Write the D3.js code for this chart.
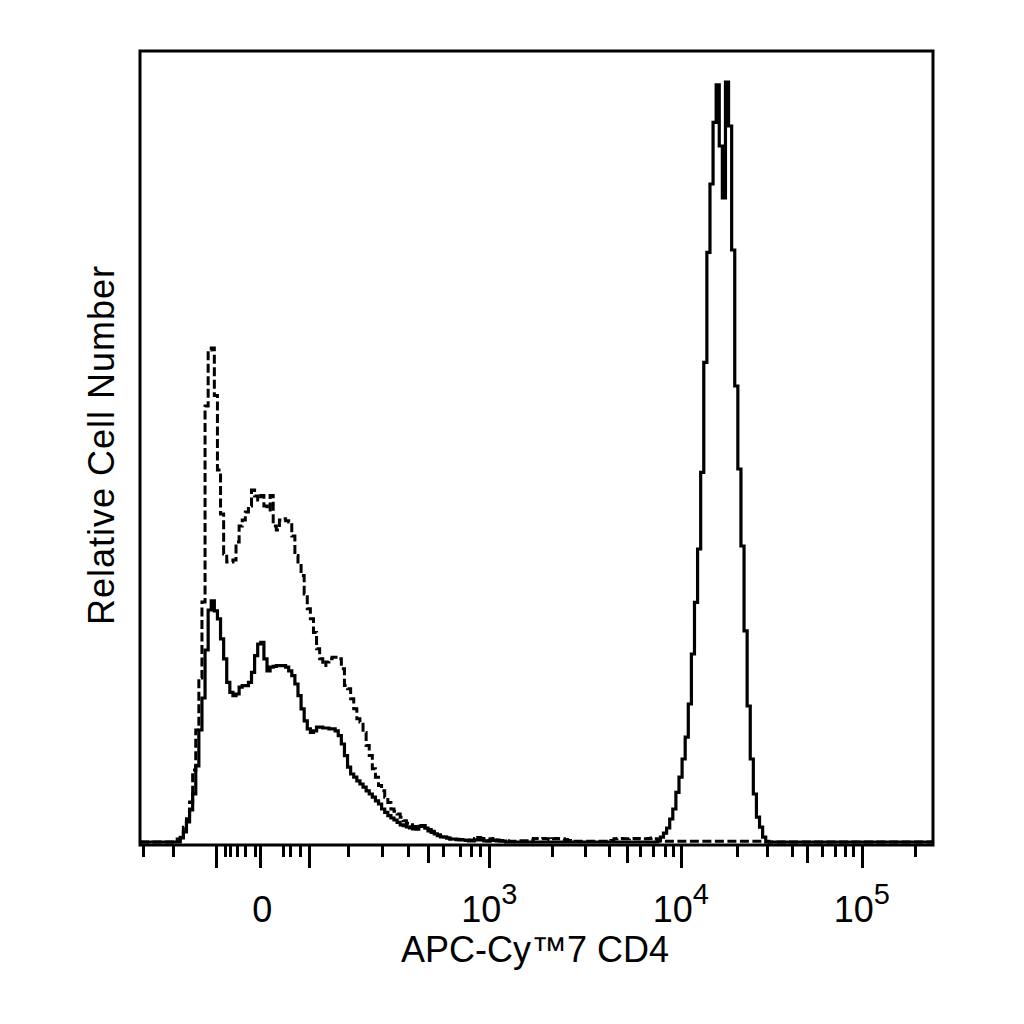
<!DOCTYPE html>
<html>
<head>
<meta charset="utf-8">
<script src="https://cdn.jsdelivr.net/npm/d3@7"></script>
<style>
  body { margin: 0; background: #fff; }
  text { font-family: "Liberation Sans", Arial, sans-serif; fill: #000; }
</style>
</head>
<body>
<svg id="view"></svg>
<script>

// 256 display channels on the biexponential axis, counts per channel
const nBins = 256;

// stained sample (solid line)
const solidCounts = [
    0, 0, 0, 0, 0, 0, 0, 0, 0, 0,
    0, 0, 0, 1, 2.5, 5, 8, 12, 19, 28,
    36, 48, 58, 60.3, 57.8, 55.8, 50.8, 45.8, 39.9, 37.4,
    36.6, 37, 38.7, 39.1, 39.1, 39.9, 42.4, 46.6, 49.5, 49.9,
    45.8, 42.8, 43.7, 43.9, 44.1, 44.1, 44.1, 43.7, 42.8, 41.6,
    39.5, 36.6, 33.3, 30.3, 28.3, 27.4, 27.8, 28.7, 28.7, 28.5,
    28.5, 28.3, 28.3, 27.8, 26.6, 24.5, 21.6, 18.7, 17, 16.2,
    15.3, 14.5, 13.7, 12.8, 12, 11.2, 10.3, 9.5, 8.25, 7.4,
    6.6, 6, 5.5, 4.9, 4.3, 4.1, 3.8, 3.5, 3.25, 3.2,
    3.9, 4.1, 3.5, 2.8, 2.4, 2, 1.6, 1.3, 1.2, 1,
    0.75, 0.75, 0.6, 0.5, 0.5, 0.4, 0.3, 0.3, 0.5, 0.7,
    0.5, 0.3, 0.2, 0.4, 0.5, 0.3, 0.2, 0.2, 0, 0,
    0, 0, 0, 0, 0, 0, 0, 0, 0, 0,
    0, 0, 0, 0, 0, 0, 0, 0, 0, 0,
    0, 0, 0, 0, 0, 0, 0, 0, 0, 0,
    0, 0, 0, 0, 0, 0, 0, 0, 0, 0,
    0, 0, 0, 0, 0, 0, 0, 0.4, 1.2, 2.2,
    3.5, 5.75, 8.25, 12.4, 16.2, 20.75, 26.2, 34.5, 47, 59.9,
    73.25, 92.4, 119.9, 147.4, 164.5, 179.9, 189.3, 174, 161, 190,
    179, 148, 114, 93.25, 74, 52.8, 34, 20.75, 12, 6.2,
    3.7, 1.2, 0, 0, 0, 0
];

// isotype control (dashed line)
const dashedCounts = [
    0, 0, 0, 0, 0, 0, 0, 0, 0, 0,
    0, 0, 0.75, 2, 3.7, 5.8, 10, 18, 28, 41,
    60, 109, 123, 123.5, 111.6, 93, 82, 72, 70, 70,
    70.5, 75, 79, 80.5, 82.5, 84, 88, 86.5, 85.5, 86.6,
    84, 83, 86.6, 79, 78, 80.5, 80.8, 80.3, 80, 76.5,
    71.6, 70, 66.6, 62, 58.3, 55.8, 52.4, 48.3, 45.8, 44.1,
    45, 45.8, 46.2, 46.2, 45.8, 43.3, 39.1, 38.3, 35.8, 33.3,
    30.8, 30, 27.4, 24.1, 21.6, 18.3, 16.2, 14.1, 12.8, 11.2,
    9.9, 8.25, 7.7, 7, 6.2, 5.3, 4.7, 4.3, 3.9, 3.7,
    4.1, 4.1, 3.5, 3.1, 2.7, 2, 1.8, 1.4, 1.2, 1,
    0.75, 0.75, 0.7, 0.6, 0.6, 0.5, 0.5, 0.5, 0.9, 1.1,
    0.9, 0.5, 0.4, 0.8, 0.9, 0.5, 0.4, 0.3, 0.3, 0.2,
    0.2, 0.2, 0.2, 0.3, 0.3, 0.3, 0.5, 0.9, 0.9, 0.8,
    0.9, 0.8, 0.6, 0.8, 0.9, 0.8, 0.8, 0.6, 0.4, 0.3,
    0.2, 0.2, 0.2, 0.2, 0.2, 0.2, 0.2, 0.2, 0.2, 0.2,
    0.2, 0.2, 0.4, 0.8, 0.9, 0.9, 0.8, 0.8, 0.9, 0.9,
    0.8, 0.9, 0.8, 0.8, 0.9, 1, 0.8, 0.3, 0.2, 0.2,
    0.2, 0.2, 0.2, 0.2, 0.2, 0.2, 0.2, 0.2, 0.2, 0.2,
    0.2, 0.2, 0.2, 0.2, 0.2, 0.2, 0.2, 0.2, 0.2, 0.2,
    0.2, 0.2, 0.2, 0.2, 0.2, 0.2, 0.2, 0.2, 0.2, 0.2,
    0.2, 0.2, 0.2, 0, 0, 0
];

// axis ticks, given in display channels
const majorTicks  = [24.5, 38.9, 54.6, 112.75, 174.6, 233.05];
const mediumTicks = [93.0, 157.2, 215.3];
const minorTicks  = [1.0, 10.6, 27.4, 29.1, 31.3, 33.9, 37.1, 46.2, 48.4, 51.6,
                     67.1, 78.1, 86.5, 97.8, 103.3, 106.8, 109.8,
                     133.0, 143.6, 151.4, 161.4, 165.6, 169.5, 172.1,
                     192.7, 202.4, 210.5, 220.1, 224.3, 227.6, 230.2, 250.2];

const labelChannels = [39.5, 112.75, 174.6, 233.05];
const labelBases    = ['0', '10', '10', '10'];
const labelPowers   = ['', '3', '4', '5'];

const xTitle = 'APC-Cy\u21227 CD4';
const yTitle = 'Relative Cell Number';


const plotHistogram = function(){
    const margin = {top: 51, right: 91, bottom: 179, left: 140};
    const width  = 1024 - margin.left - margin.right;
    const height = 1024 - margin.top - margin.bottom;

    const svg = d3.select('#view')
        .attr('width', 1024)
        .attr('height', 1024)
        .append('g')
        .attr('transform', `translate(${margin.left},${margin.top})`);

    const x = d3.scaleLinear().domain([0, nBins]).range([0, width]);
    // zero count sits just above the axis line
    const y = d3.scaleLinear().domain([0, 200]).range([height - 3, height - 803]);

    const stepLine = d3.line()
        .x(d => x(d[0]))
        .y(d => y(d[1]))
        .curve(d3.curveStepAfter);

    const toPoints = counts => counts.map((c, i) => [i, c]).concat([[nBins, 0]]);

    svg.append('path')
        .datum(toPoints(dashedCounts))
        .attr('fill', 'none')
        .attr('stroke', '#000')
        .attr('stroke-width', 3)
        .attr('stroke-dasharray', '9,3.5')
        .attr('d', stepLine);

    svg.append('path')
        .datum(toPoints(solidCounts))
        .attr('fill', 'none')
        .attr('stroke', '#000')
        .attr('stroke-width', 3.2)
        .attr('d', stepLine);

    // frame
    svg.append('rect')
        .attr('width', width)
        .attr('height', height)
        .attr('fill', 'none')
        .attr('stroke', '#000')
        .attr('stroke-width', 3);

    const tickRow = function(values, size){
        svg.append('g')
            .attr('transform', `translate(0,${height})`)
            .call(d3.axisBottom(x).tickValues(values).tickSize(size).tickFormat(''))
            .call(g => g.select('.domain').remove())
            .selectAll('line')
            .attr('stroke', '#000')
            .attr('stroke-width', 3)
            .attr('shape-rendering', 'crispEdges');
    }
    tickRow(minorTicks, 12);
    tickRow(mediumTicks, 18);
    tickRow(majorTicks, 23);

    svg.selectAll('.tlabel')
        .data(labelChannels)
        .enter()
        .append('text')
        .attr('class', 'tlabel')
        .attr('x', d => x(d))
        .attr('y', height + 77)
        .attr('text-anchor', 'middle')
        .style('font-size', '36px')
        .each(function(d, i){
            const t = d3.select(this);
            t.append('tspan').text(labelBases[i]);
            if (labelPowers[i]) t.append('tspan').attr('dy', -18).style('font-size', '29px').text(labelPowers[i]);
        });

    svg.append('text')
        .attr('x', 395)
        .attr('y', height + 117)
        .attr('text-anchor', 'middle')
        .style('font-size', '36px')
        .text(xTitle);

    svg.append('text')
        .attr('transform', `translate(-26,${394}) rotate(-90)`)
        .attr('text-anchor', 'middle')
        .style('font-size', '36px')
        .style('letter-spacing', '1px')
        .text(yTitle);
}

window.onload = () => plotHistogram();
</script>
</body>
</html>
